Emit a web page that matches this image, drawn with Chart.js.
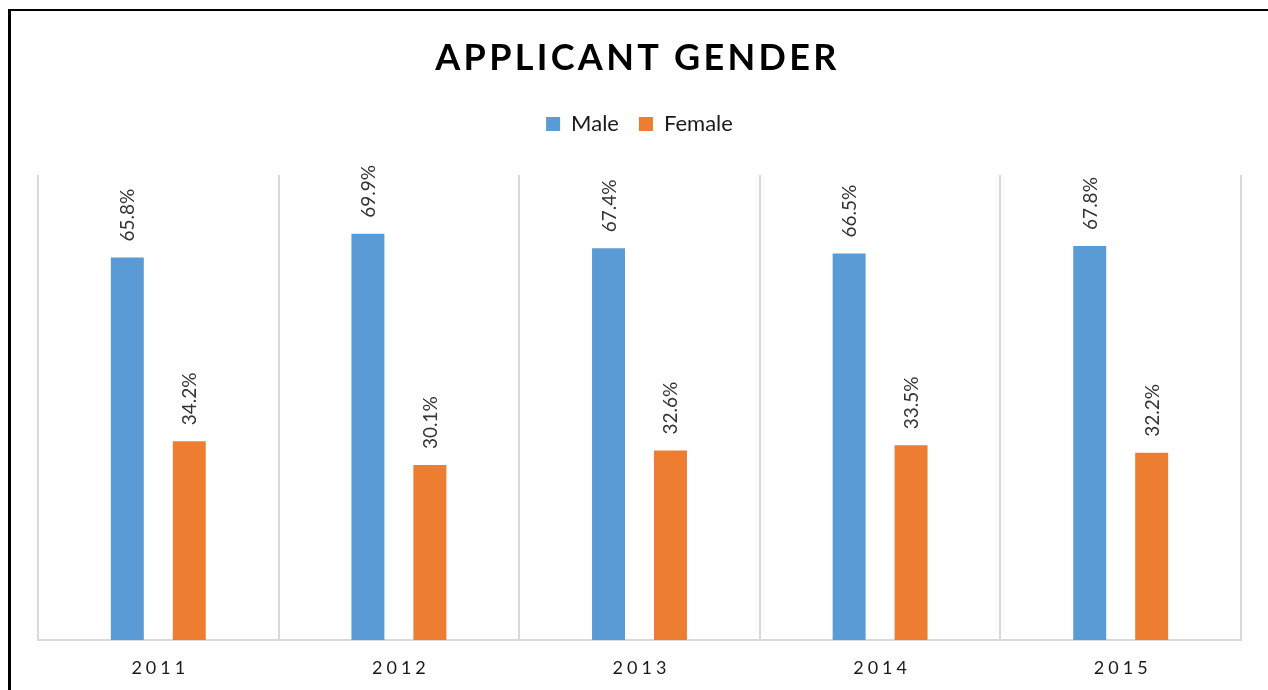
<!DOCTYPE html>
<html lang="en">
<head>
    <meta charset="UTF-8">
    <title>Applicant Gender</title>
    <script src="https://cdn.jsdelivr.net/npm/chart.js"></script>
    <style>
        html, body {
            margin: 0;
            background: #fff;
            overflow: hidden;
        }
        #frame {
            position: absolute;
            left: 8px;
            top: 9px;
            width: 1300px;
            height: 700px;
            border-left: 3px solid #000;
            border-top: 2px solid #000;
        }
        #chartBox {
            width: 1257px;
            height: 679px;
        }
    </style>
</head>
<body>
    <div id="frame">
        <div id="chartBox">
            <canvas id="genderChart"></canvas>
        </div>
    </div>
    <script>
        const years = ['2011', '2012', '2013', '2014', '2015'];
        const male = [65.8, 69.9, 67.4, 66.5, 67.8];
        const female = [34.2, 30.1, 32.6, 33.5, 32.2];
        const chartTitle = 'APPLICANT GENDER';

        const FONT = 'Lato, "Open Sans", sans-serif';

        // title + year labels need letter spacing, so they are drawn here
        const spacedText = {
            id: 'spacedText',
            afterDraw(chart) {
                const ctx = chart.ctx;
                const area = chart.chartArea;
                const xScale = chart.scales.x;
                ctx.save();
                ctx.letterSpacing = '3.3px';
                ctx.fillStyle = '#000';
                ctx.font = 'bold 36px ' + FONT;
                ctx.textAlign = 'center';
                ctx.textBaseline = 'alphabetic';
                ctx.fillText(chartTitle, (area.left + area.right) / 2 - 2, 59);

                ctx.letterSpacing = '4px';
                ctx.font = '18px ' + FONT;
                ctx.fillStyle = '#1a1a1a';
                years.forEach((y, i) => {
                    ctx.fillText(y, xScale.getPixelForValue(i) + 2, area.bottom + 34);
                });
                ctx.restore();
            }
        };

        // rotated value labels above each bar
        const barLabels = {
            id: 'barLabels',
            afterDatasetsDraw(chart) {
                const ctx = chart.ctx;
                ctx.save();
                ctx.font = '19px ' + FONT;
                ctx.fillStyle = '#333';
                ctx.textAlign = 'left';
                ctx.textBaseline = 'alphabetic';
                chart.data.datasets.forEach((ds, di) => {
                    chart.getDatasetMeta(di).data.forEach((bar, i) => {
                        ctx.save();
                        ctx.translate(bar.x + 7, bar.y - 16);
                        ctx.rotate(-Math.PI / 2);
                        ctx.fillText(ds.data[i].toFixed(1) + '%', 0, 0);
                        ctx.restore();
                    });
                });
                ctx.restore();
            }
        };

        // extra room between legend and plot
        const legendGap = {
            id: 'legendGap',
            beforeLayout(chart) {
                const legend = chart.legend;
                if (legend && !legend._gapPatched) {
                    const fit = legend.fit;
                    legend.fit = function() {
                        fit.call(this);
                        this.height += 30;
                    };
                    legend._gapPatched = true;
                }
            }
        };

        const ctx = document.getElementById('genderChart').getContext('2d');
        const myChart = new Chart(ctx, {
            type: 'bar',
            data: {
                labels: years,
                datasets: [{
                    label: 'Male',
                    data: male,
                    backgroundColor: '#5B9BD5'
                }, {
                    label: 'Female',
                    data: female,
                    backgroundColor: '#ED7D31'
                }]
            },
            options: {
                responsive: true,
                maintainAspectRatio: false,
                animation: false,
                categoryPercentage: 0.515,
                barPercentage: 0.532,
                layout: {
                    padding: { top: 82, left: 27, right: 27, bottom: 50 }
                },
                scales: {
                    x: {
                        grid: {
                            color: '#d9d9d9',
                            lineWidth: 2,
                            drawTicks: false
                        },
                        border: { color: '#d9d9d9', width: 2 },
                        ticks: { display: false }
                    },
                    y: {
                        display: false,
                        min: 0,
                        max: 80
                    }
                },
                plugins: {
                    title: { display: false },
                    tooltip: { enabled: false },
                    legend: {
                        display: true,
                        position: 'top',
                        labels: {
                            boxWidth: 14,
                            boxHeight: 14,
                            padding: 20,
                            color: '#1a1a1a',
                            font: { family: FONT, size: 22 }
                        }
                    }
                }
            },
            plugins: [spacedText, barLabels, legendGap]
        });
    </script>
</body>
</html>
